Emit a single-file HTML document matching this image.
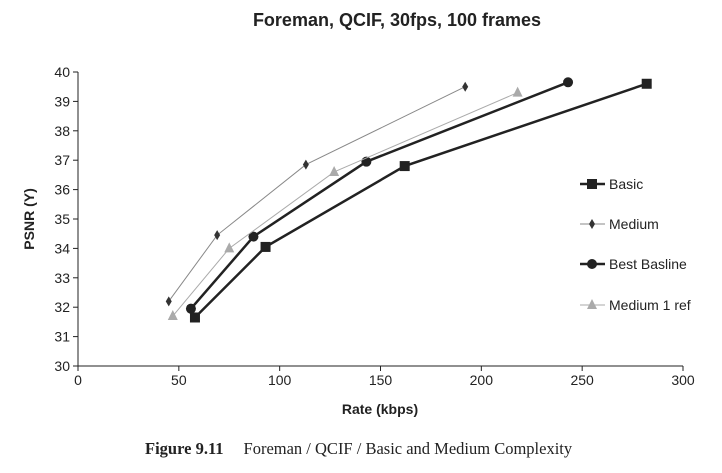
<!DOCTYPE html>
<html><head><meta charset="utf-8"><style>
body{margin:0;background:#fff;}
svg text{font-family:"Liberation Sans",Arial,sans-serif;}
</style></head><body>
<svg id="chart" width="722" height="468">
<text x="397" y="26" text-anchor="middle" font-size="18" font-weight="bold" fill="#222">Foreman, QCIF, 30fps, 100 frames</text>
<g id="axes"></g>
<g id="series"></g>
<g id="legend"></g>
<text x="145" y="454" font-size="16.5" style="font-family:'Liberation Serif',serif" fill="#222"><tspan font-weight="bold">Figure 9.11</tspan><tspan dx="20">Foreman / QCIF / Basic and Medium Complexity</tspan></text>
</svg>
<script>
const xTicks=[0,50,100,150,200,250,300];
const yTicks=[30,31,32,33,34,35,36,37,38,39,40];
const seriesNames=["Basic","Medium","Best Basline","Medium 1 ref"];
const basicX=[58,93,162,282];
const basicY=[31.65,34.05,36.8,39.6];
const mediumX=[45,69,113,192];
const mediumY=[32.2,34.45,36.85,39.5];
const bestX=[56,87,143,243];
const bestY=[31.95,34.4,36.95,39.65];
const med1X=[47,75,127,218];
const med1Y=[31.7,34.0,36.6,39.3];

const NS="http://www.w3.org/2000/svg";
const x0=78,x1=683,y0=366,y1=72;
const sx=v=>x0+(v-0)/(300-0)*(x1-x0);
const sy=v=>y0-(v-30)/(40-30)*(y0-y1);
function el(t,a,p){const e=document.createElementNS(NS,t);for(const k in a)e.setAttribute(k,a[k]);p.appendChild(e);return e;}
const axes=document.getElementById('axes');
let a=el('line',{x1:x0,y1:y0,x2:x1,y2:y0,stroke:'#222','stroke-width':1},axes);


a=el('line',{x1:x0,y1:y0,x2:x0,y2:y1,stroke:'#222','stroke-width':1},axes);


xTicks.forEach(v=>{el('line',{x1:sx(v),y1:y0,x2:sx(v),y2:y0+5,stroke:'#222'},axes);
 const t=el('text',{x:sx(v),y:y0+19,'text-anchor':'middle','font-size':14,fill:'#222'},axes);t.textContent=v;
 
 });
yTicks.forEach(v=>{el('line',{x1:x0-5,y1:sy(v),x2:x0,y2:sy(v),stroke:'#222'},axes);
 const t=el('text',{x:x0-8,y:sy(v)+5,'text-anchor':'end','font-size':14,fill:'#222'},axes);t.textContent=v;
 
 });
let t=el('text',{x:380,y:414,'text-anchor':'middle','font-size':14,'font-weight':'bold',fill:'#222'},axes);t.textContent='Rate (kbps)';


t=el('text',{x:0,y:0,'text-anchor':'middle','font-size':14,'font-weight':'bold',fill:'#222',transform:'translate(34,219) rotate(-90)'},axes);t.textContent='PSNR (Y)';



function marker(g,type,x,y,c){
 if(type==='sq')return el('rect',{x:x-5,y:y-5,width:10,height:10,fill:c},g);
 if(type==='ci')return el('circle',{cx:x,cy:y,r:5,fill:c},g);
 if(type==='di')return el('polygon',{points:`${x},${y-5} ${x+3},${y} ${x},${y+5} ${x-3},${y}`,fill:c},g);
 return el('polygon',{points:`${x},${y-6} ${x+5},${y+4} ${x-5},${y+4}`,fill:c},g);
}
const defs=[
 {xs:basicX,ys:basicY,c:'#222',w:2.5,m:'sq',mc:'#222',n:'series-basic'},
 {xs:mediumX,ys:mediumY,c:'#888',w:1,m:'di',mc:'#333',n:'series-medium'},
 {xs:bestX,ys:bestY,c:'#222',w:2.5,m:'ci',mc:'#222',n:'series-best-baseline'},
 {xs:med1X,ys:med1Y,c:'#aaa',w:1,m:'tr',mc:'#aaa',n:'series-medium-1-ref'}];
const sg=document.getElementById('series');
defs.forEach(d=>{const g=el('g',{},sg);
 
 
 el('polyline',{points:d.xs.map((v,i)=>sx(v)+','+sy(d.ys[i])).join(' '),fill:'none',stroke:d.c,'stroke-width':d.w},g);
 d.xs.forEach((v,i)=>{const m=marker(g,d.m,sx(v),sy(d.ys[i]),d.mc);
  
  });
});
const lg=document.getElementById('legend');
const ly=[184,224,264,305];
defs.forEach((d,i)=>{const g=el('g',{},lg);
 
 
 el('line',{x1:580,y1:ly[i],x2:605,y2:ly[i],stroke:d.c,'stroke-width':d.w},g);
 marker(g,d.m,592,ly[i],d.mc);
 const tx=el('text',{x:609,y:ly[i]+5,'font-size':14,fill:'#222'},g);tx.textContent=seriesNames[i];});
</script>
</body></html>
